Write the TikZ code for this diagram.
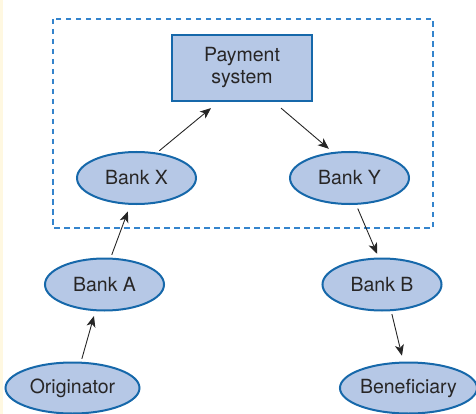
\documentclass[tikz,border=0pt]{standalone}
\usepackage{fontspec}
\setmainfont{TeX Gyre Heros}
\usepackage{xcolor}
\usetikzlibrary{arrows, arrows.meta, shapes.geometric}

\definecolor{nodefill}{RGB}{182,200,230}
\definecolor{nodeline}{RGB}{22,104,170}
\definecolor{boxline}{RGB}{52,132,205}
\definecolor{txtgray}{RGB}{40,38,38}
\definecolor{cream}{RGB}{255,248,225}

\tikzset{
  bank/.style={ellipse, draw=nodeline, fill=nodefill, line width=2pt,
    minimum width=119pt, minimum height=52pt, inner sep=0pt,
    text=txtgray, font=\fontsize{19.5}{23}\selectfont},
  party/.style={bank, minimum width=134pt, minimum height=51pt},
  paybox/.style={rectangle, draw=nodeline, fill=nodefill, line width=2.2pt,
    minimum width=140pt, minimum height=66pt, inner sep=0pt, align=center,
    text=txtgray, font=\fontsize{19.5}{22}\selectfont},
  arr/.style={-{Stealth[length=11pt,width=9pt,inset=3pt]}, line width=0.9pt, black!85,
    shorten >=5pt, shorten <=3pt}
}

\begin{document}
\begin{tikzpicture}[x=1pt,y=-1pt]
\useasboundingbox (0,0) rectangle (476,414);
\fill[cream] (0,0) rectangle (3,414);
% network boundary
\draw[boxline, line width=1.3pt, dash pattern=on 5.5pt off 4.5pt] (53,19) rectangle (433,228);

\node[paybox] (pay) at (242,68) {Payment\\system};
\node[bank] (bx) at (136.5,178) {Bank X};
\node[bank] (by) at (349.5,178) {Bank Y};
\node[bank] (ba) at (104.5,284.5) {Bank A};
\node[bank] (bb) at (382,284.5) {Bank B};
\node[party] (orig) at (72.5,388) {Originator};
\node[party] (ben) at (408.5,388) {Beneficiary};

\draw[arr] (orig.72) -- (ba.-109);
\draw[arr, shorten >=7pt] (ba.77) -- (bx.-103);
\draw[arr, shorten >=0pt] (bx.51) -- ([xshift=-31pt,yshift=-6pt]pay.south);
\draw[arr, shorten <=0pt] ([xshift=39pt,yshift=-6pt]pay.south) -- (by.123);
\draw[arr, shorten <=4pt, shorten >=4pt] (by.-76) -- (bb.97);
\draw[arr, shorten >=6pt] (bb.-71) -- (ben.101);
\end{tikzpicture}
\end{document}
